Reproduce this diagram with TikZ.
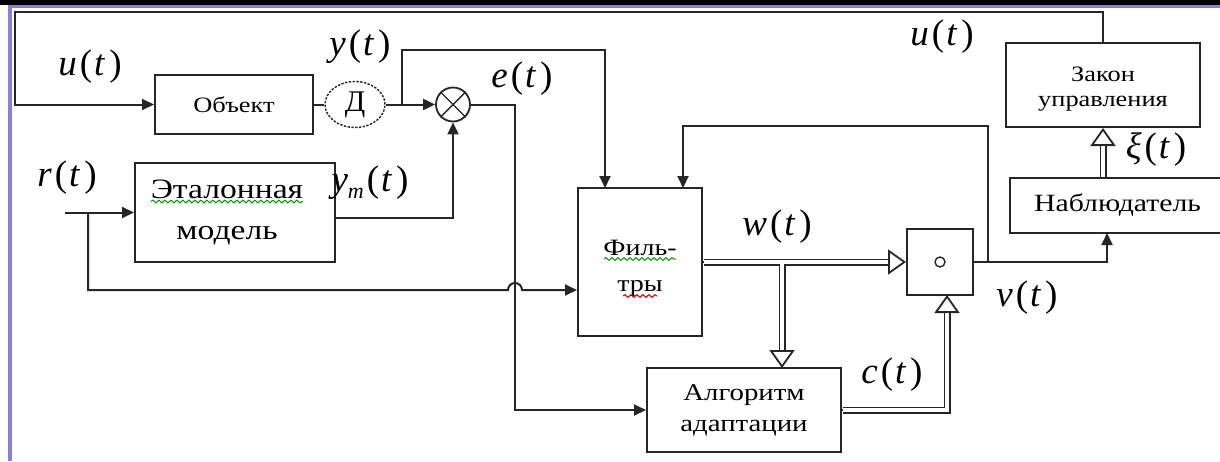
\documentclass[tikz,border=0pt]{standalone}
\usepackage{fontspec}
\setmainfont{Liberation Serif}
\newfontfamily\bx[FakeStretch=1.2]{Liberation Serif}
\usetikzlibrary{arrows.meta,calc,shapes.geometric,decorations.pathmorphing}
\definecolor{lc}{HTML}{262626}
\definecolor{lav}{HTML}{8282D6}
\newcommand{\sig}[1]{\textit{#1}\kern1.5pt(\kern1pt\textit{t}\kern2pt)}
\begin{document}
\begin{tikzpicture}[x=0.5pt,y=-0.5pt,
  ln/.style={draw=lc, line width=1pt},
  arr/.style={ln, -{Triangle[length=6pt,width=5.5pt]}},
  box/.style={ln, rectangle, inner sep=0pt, align=center, fill=white},
  hol/.style={draw=lc, line width=0.9pt, -{Triangle[open,length=9pt,width=12.5pt]}},
  dbl/.style={draw=lc, line width=0.9pt, double=white, double distance=1.7pt},
  lab/.style={inner sep=0pt, font=\fontsize{18.5}{18.5}\selectfont},
  wavyg/.style={draw=green!60!black, line width=0.5pt, decorate, decoration={snake,amplitude=0.7pt,segment length=3pt}},
  wavyr/.style={draw=red!80!black, line width=0.5pt, decorate, decoration={snake,amplitude=0.7pt,segment length=3pt}}]
\useasboundingbox (0,0) rectangle (1220,461);
\fill[white] (0,0) rectangle (1220,461);
\fill[black] (0,0) rectangle (1220,5);
\fill[lav] (8,5) rectangle (1220,7.5);
\fill[lav] (8,5) rectangle (12,461);

% blocks
\node[box, minimum width=79pt, minimum height=29.5pt, font=\bx\fontsize{11}{13}\selectfont] (obj) at (234,104.5) {Объект};
\node[ellipse, draw=lc, line width=0.7pt, dash pattern=on 1.2pt off 0.7pt, minimum width=30pt, minimum height=23pt, inner sep=0pt, font=\fontsize{15}{15}\selectfont] (D) at (355,104.5) {Д};
\node[circle, draw=lc, line width=0.9pt, minimum size=17pt, inner sep=0pt] (sum) at (453,104.5) {};
\node[box, minimum width=100pt, minimum height=49.5pt, font=\bx\fontsize{14}{20.5}\selectfont] (et) at (235,212.5) {Эталонная\hspace*{8pt}\\модель\hspace*{8pt}};
\node[box, minimum width=62pt, minimum height=74pt, font=\bx\fontsize{11.7}{18}\selectfont] (fil) at (640,262) {\rule{0pt}{14pt}Филь-\\тры};
\node[box, minimum width=33pt, minimum height=33pt] (sb) at (940,262) {};
\node[box, minimum width=97pt, minimum height=42pt, font=\bx\fontsize{12}{15.5}\selectfont] (alg) at (744,410) {Алгоритм\\адаптации};
\node[box, minimum width=97pt, minimum height=42pt, font=\bx\fontsize{11}{12.5}\selectfont] (zak) at (1103,85) {\rule{0pt}{11pt}Закон\\управления};
\node[box, minimum width=107.5pt, minimum height=27.5pt, font=\bx\fontsize{12.4}{14}\selectfont] (nab) at (1117.5,205.5) {Наблюдатель};

% sum cross and small circle
\draw[draw=lc, line width=0.7pt] (sum.north east) -- (sum.south west) (sum.north west) -- (sum.south east);
\draw[draw=lc, line width=0.7pt] (sb.center) circle[radius=5];

% spell-check underlines
\draw[wavyg] ($(et.center)+(-84,-11)$) -- ($(et.center)+(68,-11)$);
\draw[wavyg] ($(fil.center)+(-36,-3)$) -- ($(fil.center)+(36,-3)$);
\draw[wavyr] ($(fil.center)+(-17,34)$) -- ($(fil.center)+(17,34)$);

% coordinates
\coordinate (ul) at (15,12);
\coordinate (yb) at (402,104.5);
\coordinate (yt) at (605,50);
\coordinate (fin1) at (605,188);
\coordinate (ec) at (515,104.5);
\coordinate (rin) at (65,212.5);
\coordinate (rb) at (88,212.5);
\coordinate (rj) at (508,290);
\coordinate (vb) at (988,262);
\coordinate (ft) at (683,126);
\coordinate (fin2) at (683,188);
\coordinate (nin) at (1107,233);
\coordinate (wb) at (782,262);
\coordinate (ain) at (782,368);
\coordinate (sbin) at (947,295);
\coordinate (cc) at (947,410);
\coordinate (xin) at (1103,178);

% single connectors
\draw[arr] (zak.north) |- (ul) |- (obj.west);
\draw[ln] (obj.east) -- (D.west);
\draw[arr] (D.east) -- (sum.west);
\draw[arr] (yb) |- (yt) -- (fin1);
\draw[arr] ($(et.east)+(0,5.5)$) -| (sum.south);
\draw[arr] (sum.east) -- (ec) |- (alg.west);
\draw[arr] (rin) -- (et.west);
\draw[arr] (rb) |- (rj) arc[start angle=180,end angle=360,radius=7] -- (fil.west |- rj);
\draw[arr] (vb) |- (ft) -- (fin2);
\draw[arr] (sb.east) -| (nin);

% double connectors
\draw[hol] (fil.east) -- (sb.west);
\draw[hol] (wb) -- (ain);
\draw[hol] (alg.east) -- (cc) -- (sbin);
\draw[hol] (xin) -- (zak.south);
\draw[dbl] ($(fil.east)+(1,0)$) -- ($(sb.west)+(-18,0)$) (wb) -- ($(ain)+(0,-18)$);
\draw[dbl] ($(alg.east)+(1,0)$) -- (cc) -- ($(sbin)+(0,18)$);
\draw[dbl] ($(xin)+(0,-1)$) -- ($(zak.south)+(0,18)$);

% labels
\node[lab] (lu1) at (90,67) {\sig{u}};
\node[lab] (ly) at (360,47) {\sig{y}};
\node[lab] (le) at (522,79) {\sig{e}};
\node[lab] (lu2) at (942,37) {\sig{u}};
\node[lab] (lr) at (67,178) {\sig{r}};
\node[lab] (lym) at (370,183) {\textit{y}\raisebox{-3.5pt}{\fontsize{11}{11}\selectfont\textit{m}}\kern1.5pt(\kern1pt\textit{t}\kern2pt)};
\node[lab] (lw) at (777,227) {\sig{w}};
\node[lab] (lv) at (1027,298) {\sig{v}};
\node[lab] (lcl) at (892,375) {\sig{c}};
\node[lab] (lxi) at (1156,150) {\sig{ξ}};
\end{tikzpicture}
\end{document}
